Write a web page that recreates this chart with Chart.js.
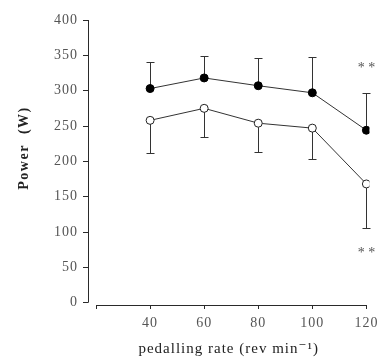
<!DOCTYPE html>
<html>
<head>
<meta charset="utf-8">
<script src="https://cdn.jsdelivr.net/npm/chart.js@4.4.0/dist/chart.umd.min.js"></script>
<style>
  html, body { margin: 0; padding: 0; background: #fff; }
</style>
</head>
<body>
<canvas id="powerChart" width="383" height="358"></canvas>
<script>
// pedalling rate (rev/min)
const rates = [40, 60, 80, 100, 120];

// filled circles: mean power and SD (error bar drawn upwards)
const filledMean = [303, 318, 307, 297, 244];
const filledSD = [37, 31, 39, 50, 52];

// open circles: mean power and SD (error bar drawn downwards)
const openMean = [258, 275, 254, 247, 168];
const openSD = [46, 40, 41, 43, 63];

const yTicks = [0, 50, 100, 150, 200, 250, 300, 350, 400];
const xTicks = [20, 40, 60, 80, 100, 120];

// significance marks at 120 rev/min
const starMarks = [
    { x: 120, y: 332, text: '* *' },
    { x: 120, y: 70, text: '* *' }
];

const serif = "'Liberation Serif', 'DejaVu Serif', serif";
const ink = '#2a2a2a';

const ctx = document.getElementById('powerChart').getContext('2d');

// the typeset look of the original: slightly spaced letters everywhere
const spacing = {
    id: 'spacing',
    beforeDraw(chart) {
        chart.ctx.letterSpacing = '1px';
    }
};

// error bars, below the markers
const errorBars = {
    id: 'errorBars',
    beforeDatasetsDraw(chart) {
        const { ctx, scales: { x, y } } = chart;
        ctx.save();
        ctx.strokeStyle = '#333';
        ctx.lineWidth = 1;
        const sets = [[filledMean, filledSD, 1], [openMean, openSD, -1]];
        sets.forEach(([mean, sd, dir]) => {
            rates.forEach((r, i) => {
                const px = Math.round(x.getPixelForValue(r)) + 0.5;
                const y0 = y.getPixelForValue(mean[i]);
                const y1 = Math.round(y.getPixelForValue(mean[i] + dir * sd[i])) + 0.5;
                ctx.beginPath();
                ctx.moveTo(px, y0);
                ctx.lineTo(px, y1);
                ctx.moveTo(px - 4, y1);
                ctx.lineTo(px + 4, y1);
                ctx.stroke();
            });
        });
        ctx.restore();
    }
};

// axis lines (the x axis starts at 20, detached from the y axis)
const axisLines = {
    id: 'axisLines',
    afterDraw(chart) {
        const { ctx, chartArea, scales: { x, y } } = chart;
        ctx.save();
        ctx.strokeStyle = ink;
        ctx.lineWidth = 1;
        ctx.beginPath();
        const ax = Math.round(chartArea.left) + 0.5;
        ctx.moveTo(ax, y.getPixelForValue(400));
        ctx.lineTo(ax, y.getPixelForValue(0));
        const ay = Math.round(chartArea.bottom) + 0.5;
        ctx.moveTo(x.getPixelForValue(20), ay);
        ctx.lineTo(x.getPixelForValue(120), ay);
        ctx.stroke();

        // stars
        ctx.fillStyle = '#555';
        ctx.font = '14px ' + serif;
        ctx.textAlign = 'center';
        ctx.textBaseline = 'middle';
        ctx.letterSpacing = '0px';
        starMarks.forEach(s => {
            ctx.fillText(s.text, x.getPixelForValue(s.x), y.getPixelForValue(s.y));
        });

        // y title
        ctx.translate(24, 148);
        ctx.rotate(-Math.PI / 2);
        ctx.fillStyle = '#222';
        ctx.font = 'bold 14px ' + serif;
        ctx.letterSpacing = '1.5px';
        ctx.fillText('Power  (W)', 0, 0);
        ctx.restore();
    }
};

new Chart(ctx, {
    type: 'line',
    data: {
        datasets: [
            {
                data: rates.map((r, i) => ({ x: r, y: filledMean[i] })),
                borderColor: '#333',
                borderWidth: 1,
                pointRadius: 4,
                pointBackgroundColor: '#000',
                pointBorderColor: '#000',
                pointBorderWidth: 1
            },
            {
                data: rates.map((r, i) => ({ x: r, y: openMean[i] })),
                borderColor: '#333',
                borderWidth: 1,
                pointRadius: 4,
                pointBackgroundColor: '#fff',
                pointBorderColor: '#222',
                pointBorderWidth: 1
            }
        ]
    },
    options: {
        responsive: false,
        animation: false,
        layout: { padding: { top: 20, right: 11, left: 0, bottom: 0 } },
        plugins: {
            legend: { display: false },
            tooltip: { enabled: false }
        },
        scales: {
            x: {
                type: 'linear',
                min: 17.03,
                max: 121.1,
                afterFit: function (scale) { scale.height = 53; },
                afterBuildTicks: function (scale) {
                    scale.ticks = xTicks.map(v => ({ value: v }));
                },
                border: { display: false },
                grid: {
                    drawOnChartArea: false,
                    drawTicks: true,
                    tickLength: 4,
                    color: ink
                },
                ticks: {
                    padding: 6,
                    color: '#555',
                    font: { family: serif, size: 14 },
                    callback: function (value) {
                        return value === 20 ? '' : value;
                    }
                },
                title: {
                    display: true,
                    text: 'pedalling rate (rev min⁻¹)',
                    color: '#222',
                    font: { family: serif, size: 15 },
                    padding: { top: 0, bottom: 0 }
                }
            },
            y: {
                min: -3.3,
                max: 400,
                afterFit: function (scale) { scale.width = 88; },
                afterBuildTicks: function (scale) {
                    scale.ticks = yTicks.map(v => ({ value: v }));
                },
                border: { display: false },
                grid: {
                    drawOnChartArea: false,
                    drawTicks: true,
                    tickLength: 5,
                    color: ink
                },
                ticks: {
                    padding: 5,
                    color: '#555',
                    font: { family: serif, size: 14 }
                }
            }
        }
    },
    plugins: [spacing, errorBars, axisLines]
});
</script>
</body>
</html>
